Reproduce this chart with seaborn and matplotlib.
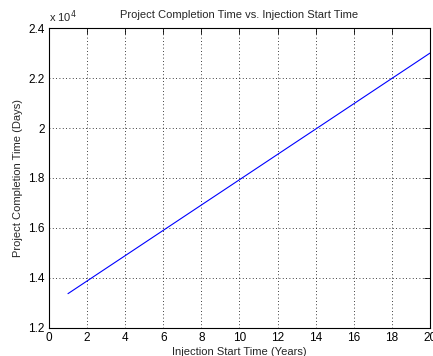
import matplotlib
matplotlib.use("Agg")
import matplotlib.pyplot as plt
import matplotlib.ticker as mticker
import seaborn as sns
import pandas as pd

# Values
start_years = [1, 2, 3, 4, 5, 6, 7, 8, 9, 10,
               11, 12, 13, 14, 15, 16, 17, 18, 19, 20]
completion_days = [13370, 13877, 14384, 14890, 15397, 15904, 16411, 16918, 17424, 17931,
                   18438, 18945, 19452, 19958, 20465, 20972, 21479, 21986, 22492, 23000]

df = pd.DataFrame({"years": start_years, "days": completion_days})

sns.set_style("white")
plt.rcParams["font.family"] = ["Liberation Sans", "DejaVu Sans"]

fig = plt.figure(figsize=(4.33, 3.56), dpi=100)
ax = fig.add_axes([0.113, 0.079, 0.880, 0.842])

sns.lineplot(data=df, x="years", y="days", color="#0000ff", linewidth=0.8, ax=ax)

ax.set_xlim(0, 20)
ax.set_ylim(12000, 24000)
ax.set_xticks(range(0, 21, 2))
ax.set_yticks(range(12000, 24001, 2000))
ax.yaxis.set_major_formatter(mticker.FuncFormatter(lambda v, p: f"{v / 1e4:g}"))

ax.grid(True, color="black", linestyle=(0, (1, 3)), linewidth=0.6)
ax.tick_params(direction="in", length=4, width=0.6, labelsize=8.5, colors="black",
               top=True, right=True, pad=3)
for s in ax.spines.values():
    s.set_color("black")
    s.set_linewidth(0.8)

ax.set_title("Project Completion Time vs. Injection Start Time", fontsize=8, pad=7)
ax.set_xlabel("Injection Start Time (Years)", fontsize=8, labelpad=2)
ax.set_ylabel("Project Completion Time (Days)", fontsize=8, labelpad=4)
ax.text(0.0, 1.01, r"x 10$^4$", transform=ax.transAxes, fontsize=8, ha="left", va="bottom")

fig.savefig("out.png", dpi=100)
